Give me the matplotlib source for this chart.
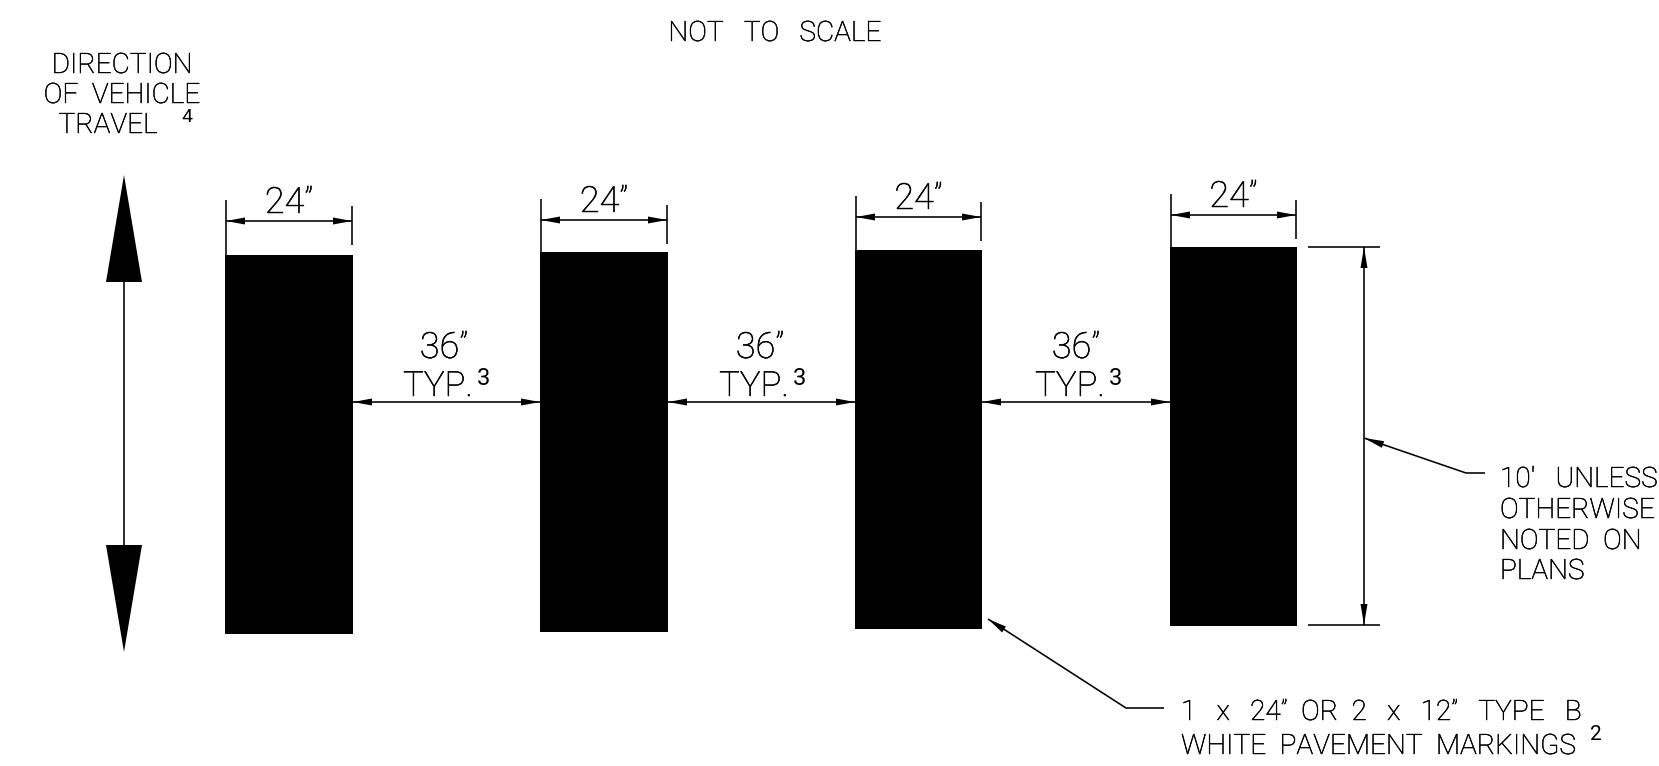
#!/usr/bin/env python3
# -*- coding: utf-8 -*-
import matplotlib
matplotlib.use('Agg')
import matplotlib.pyplot as plt
import matplotlib.patheffects as pe

# everything is in pixels of the drawing, y going down
bar_left = [225, 540, 855, 1170]
bar_right = [353, 668, 982, 1297]
bar_top = [255, 252, 250, 247]
bar_bottom = [634, 632, 629, 626]

width_label = '24”'
dim_y = [221, 220, 217, 215]
width_baseline = [213, 212, 209, 207]

gap_label = '36”'
gap_note = 'TYP.'
gap_note_mark = '3'
gap_y = 402
gap_text_x = [444, 760, 1076]

title = 'NOT   TO   SCALE'
direction_lines = ['DIRECTION', 'OF  VEHICLE', 'TRAVEL']
direction_x = [122, 122, 108]
direction_baselines = [73, 103, 133]
length_lines = ["10'   UNLESS", 'OTHERWISE', 'NOTED  ON', 'PLANS']
length_baselines = [487, 518, 549, 579]
marking_lines = ['1   x   24”  OR  2   x   12”   TYPE   B', 'WHITE  PAVEMENT  MARKINGS']
marking_baselines = [720, 754]

FONT = 'Roboto'
LW = 1.15


def arrowhead(ax, tip, base, half):
    # filled triangle, tip and base centre given in pixels
    dx, dy = base[0] - tip[0], base[1] - tip[1]
    size = (dx ** 2 + dy ** 2) ** 0.5
    nx, ny = -dy / size * half, dx / size * half
    ax.fill([tip[0], base[0] + nx, base[0] - nx],
            [tip[1], base[1] + ny, base[1] - ny], color='k', lw=0, zorder=3)


def line(ax, xs, ys):
    ax.plot(xs, ys, color='k', lw=LW, solid_capstyle='butt', zorder=2)


def label(ax, x, y, s, size=20.2, ha='left', weight='light'):
    t = ax.text(x, y, s, fontsize=size, ha=ha, va='baseline', family=FONT,
                fontweight=weight, color='k')
    # the light face alone comes out greyer than the drawing's lettering
    if weight == 'light':
        t.set_path_effects([pe.withStroke(linewidth=0.35, foreground='k')])


fig = plt.figure(figsize=(16.59, 7.66), dpi=100)
ax = fig.add_axes([0, 0, 1, 1])
ax.set_xlim(0, 1659)
ax.set_ylim(766, 0)
ax.axis('off')

# pavement markings
for l, r, t, b in zip(bar_left, bar_right, bar_top, bar_bottom):
    ax.fill([l, r, r, l], [t, t, b, b], color='k', lw=0)

# 24" widths
for i in range(4):
    l, r, y = bar_left[i] + 1, bar_right[i] - 1, dim_y[i]
    line(ax, [l, l], [y - 21, bar_top[i]])
    line(ax, [r, r], [y - 15, y + 24])
    line(ax, [l, r], [y, y])
    arrowhead(ax, (l, y), (l + 19, y), 3.5)
    arrowhead(ax, (r, y), (r - 19, y), 3.5)
    label(ax, (l + r) / 2, width_baseline[i], width_label, size=26, ha='center')

# 36" gaps
for i in range(3):
    l, r = bar_right[i], bar_left[i + 1]
    line(ax, [l, r], [gap_y, gap_y])
    arrowhead(ax, (l, gap_y), (l + 19, gap_y), 3.5)
    arrowhead(ax, (r, gap_y), (r - 19, gap_y), 3.5)
    label(ax, gap_text_x[i], 358, gap_label, size=26, ha='center')
    label(ax, gap_text_x[i] - 6, 396, gap_note, size=25, ha='center')
    label(ax, gap_text_x[i] + 39, 385, gap_note_mark, size=17, ha='center', weight='normal')

# direction of travel
line(ax, [124, 124], [282, 545])
arrowhead(ax, (124, 175), (124, 282), 18)
arrowhead(ax, (124, 652), (124, 545), 18)
for s, x, y in zip(direction_lines, direction_x, direction_baselines):
    label(ax, x, y, s, ha='center')
label(ax, 187, 122, '4', size=14, ha='center', weight='normal')

label(ax, 775, 41, title, ha='center')

# 10' length dimension
line(ax, [1308, 1380], [247, 247])
line(ax, [1308, 1380], [625, 625])
line(ax, [1364, 1364], [247, 625])
arrowhead(ax, (1364, 247), (1364, 268), 3.5)
arrowhead(ax, (1364, 625), (1364, 604), 3.5)
line(ax, [1364, 1466, 1485], [438, 473, 473])
arrowhead(ax, (1364, 438), (1383, 444.5), 3.5)
for s, y in zip(length_lines, length_baselines):
    label(ax, 1500, y, s)

# marking callout
line(ax, [988, 1126, 1164], [619, 708, 708])
arrowhead(ax, (988, 619), (1004, 629.5), 3.5)
for s, y in zip(marking_lines, marking_baselines):
    label(ax, 1181, y, s)
label(ax, 1596, 740, '2', size=15, ha='center', weight='normal')

fig.savefig('out.png', dpi=100)
